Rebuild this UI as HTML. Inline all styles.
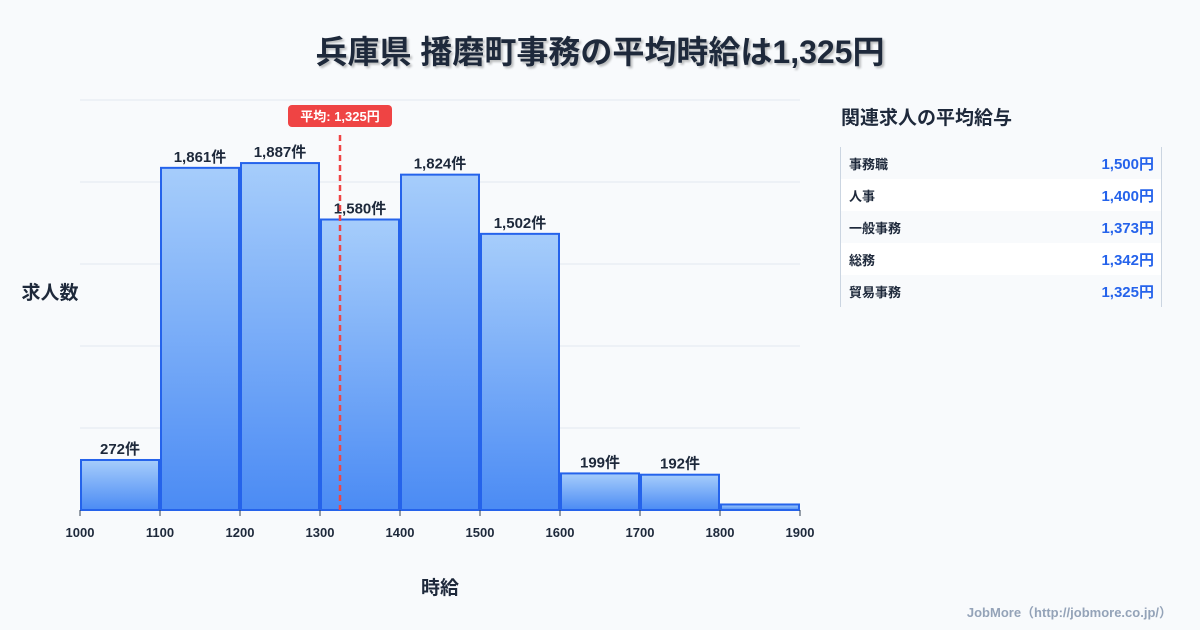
<!DOCTYPE html>
<html><head><meta charset="utf-8">
<style>
body{margin:0;background:#f8fafc;font-family:"Liberation Sans","Noto Sans CJK JP",sans-serif;}
#wrap{position:relative;width:1200px;height:630px;overflow:hidden;background:#f8fafc;}
.title{position:absolute;top:27px;left:0;width:1200px;text-align:center;font-size:32px;font-weight:700;color:#1e293b;text-shadow:2px 2px 2px rgba(0,0,0,0.25);}
.side-title{position:absolute;left:841px;top:103px;font-size:19px;font-weight:700;color:#1e293b;}
.table{position:absolute;left:840px;top:147px;width:320px;height:160px;border-left:1px solid #cbd5e1;border-right:1px solid #cbd5e1;}
.row{height:32px;display:flex;justify-content:space-between;align-items:center;padding:0 7px 0 8px;font-size:13px;font-weight:700;color:#1e293b;}
.row:nth-child(even){background:#fff;}
.row .v{color:#2563eb;font-size:15px;}
.credit{position:absolute;right:28px;top:602px;font-size:13px;font-weight:700;color:#94a3b8;}
</style></head><body>
<div id="wrap">
<div class="title">兵庫県 播磨町事務の平均時給は1,325円</div>
<svg id="chart" width="820" height="630" style="position:absolute;left:0;top:0">
<defs><linearGradient id="g" x1="0" y1="0" x2="0" y2="1"><stop offset="0" stop-color="#a6cdfb"/><stop offset="1" stop-color="#4b8bf4"/></linearGradient></defs>
</svg>
<div class="side-title">関連求人の平均給与</div>
<div class="table">
<div class="row"><span>事務職</span><span class="v">1,500円</span></div>
<div class="row"><span>人事</span><span class="v">1,400円</span></div>
<div class="row"><span>一般事務</span><span class="v">1,373円</span></div>
<div class="row"><span>総務</span><span class="v">1,342円</span></div>
<div class="row"><span>貿易事務</span><span class="v">1,325円</span></div>
</div>
<div class="credit">JobMore（http://jobmore.co.jp/）</div>
</div>
<script>
const binStarts=[1000,1100,1200,1300,1400,1500,1600,1700,1800];
const counts=[272,1861,1887,1580,1824,1502,199,192,30];
const countLabels=["272件","1,861件","1,887件","1,580件","1,824件","1,502件","199件","192件",""];
const xTicks=[1000,1100,1200,1300,1400,1500,1600,1700,1800,1900];
const meanValue=1325;
const meanLabel="平均: 1,325円";
const yMax=2230;
const NS="http://www.w3.org/2000/svg";
const svg=document.getElementById('chart');
const x=v=>80+(v-1000)*0.8;
const y=v=>510-v/yMax*410;
function mk(t,a){const e=document.createElementNS(NS,t);for(const k in a)e.setAttribute(k,a[k]);svg.appendChild(e);return e;}
for(let i=0;i<=5;i++){
 const g=mk('line',{x1:80,x2:800,y1:510-i*82,y2:510-i*82,stroke:'#e2e8f0','stroke-width':1});
 
 
}
binStarts.forEach((b,i)=>{
 const r=mk('rect',{x:x(b)+1,y:y(counts[i]),width:x(b+100)-x(b)-2,height:510-y(counts[i]),fill:'url(#g)',stroke:'#2563eb','stroke-width':2});
 
 
 if(countLabels[i]){
  const t=mk('text',{x:x(b+50),y:y(counts[i])-6,'text-anchor':'middle','font-size':15,'font-weight':700,fill:'#1e293b'});
  t.textContent=countLabels[i];
  
  
 }
});
xTicks.forEach(v=>{
 const l=mk('line',{x1:x(v),x2:x(v),y1:510,y2:516,stroke:'#334155','stroke-width':1});
 
 
 const t=mk('text',{x:x(v),y:537,'text-anchor':'middle','font-size':13,'font-weight':700,fill:'#1e293b'});
 t.textContent=v;
 
 
});
const ml=mk('line',{x1:x(meanValue),x2:x(meanValue),y1:135,y2:510,stroke:'#ef4444','stroke-width':2.5,'stroke-dasharray':'6,4'});


const mb=mk('rect',{x:x(meanValue)-52,y:105,width:104,height:22,rx:4,fill:'#ef4444'});


const mt=mk('text',{x:x(meanValue),y:121,'text-anchor':'middle','font-size':13,'font-weight':700,fill:'#fff'});
mt.textContent=meanLabel;


const yt=mk('text',{x:50,y:299,'text-anchor':'middle','font-size':19,'font-weight':700,fill:'#1e293b'});
yt.textContent='求人数';


const xt=mk('text',{x:440,y:594,'text-anchor':'middle','font-size':19,'font-weight':700,fill:'#1e293b'});
xt.textContent='時給';


</script>
</body></html>
